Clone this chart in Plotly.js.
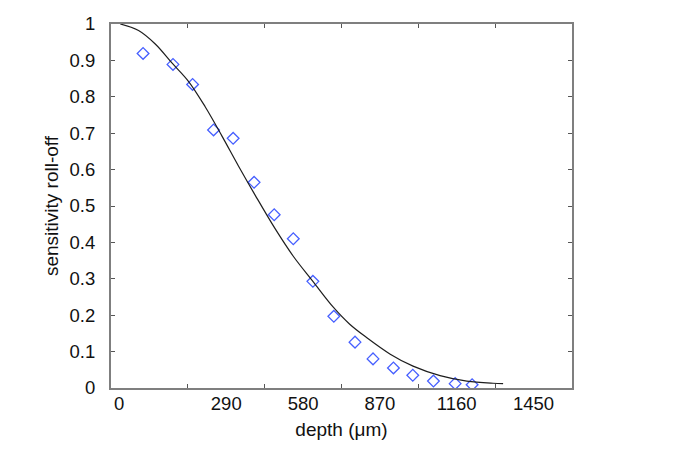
<!DOCTYPE html>
<html>
<head>
<meta charset="utf-8">
<script src="https://cdn.plot.ly/plotly-3.0.1.min.js"></script>
<style>
  html, body { margin: 0; padding: 0; background: #fff; }
  #plot { width: 677px; height: 458px; }
</style>
</head>
<body>
<div id="plot"></div>
<script>
// measured roll-off (diamonds)
var depthMeas = [121, 234, 308, 387, 461, 540, 616, 688, 762, 841, 921, 989, 1066, 1139, 1217, 1299, 1363];
var rollMeas  = [0.919, 0.889, 0.834, 0.709, 0.686, 0.565, 0.476, 0.41, 0.293, 0.197, 0.126, 0.080, 0.055, 0.035, 0.019, 0.012, 0.009];

// fitted curve (line)
var depthFit = [35, 104, 167, 230, 293, 356, 419, 481, 544, 620, 688, 762, 839, 900, 966, 1054, 1140, 1242, 1343, 1442, 1480];
var rollFit  = [1.0, 0.982, 0.945, 0.893, 0.842, 0.772, 0.692, 0.610, 0.530, 0.437, 0.362, 0.293, 0.222, 0.176, 0.138, 0.093, 0.06, 0.034, 0.019, 0.013, 0.012];

// tick labels (sit between the tick marks in the original)
var tickLabelPos  = [31, 435, 725, 1015, 1305, 1595];
var tickLabelText = ['0', '290', '580', '870', '1160', '1450'];

function crea(){
  var fit = {
    x: depthFit,
    y: rollFit,
    mode: 'lines',
    line: { color: 'rgb(30,30,30)', width: 1.2, shape: 'spline', smoothing: 1 },
    xaxis: 'x2',
    yaxis: 'y',
    showlegend: false,
    hoverinfo: 'skip'
  };

  var meas = {
    x: depthMeas,
    y: rollMeas,
    mode: 'markers',
    marker: {
      symbol: 'diamond-open',
      size: 9,
      color: 'rgb(70,95,255)',
      line: { width: 1.3, color: 'rgb(70,95,255)' }
    },
    showlegend: false
  };

  var axRange = [0, 1740];

  var layout = {
    width: 677,
    height: 458,
    margin: { l: 111, r: 105, t: 24, b: 70 },
    paper_bgcolor: '#fff',
    plot_bgcolor: '#fff',
    font: { family: 'Liberation Sans, Arial, sans-serif', size: 18.5, color: '#111' },
    showlegend: false,
    xaxis: {
      range: axRange,
      tick0: 0,
      dtick: 290,
      ticks: 'inside',
      ticklen: 4,
      tickcolor: '#555',
      showticklabels: false,
      showgrid: false,
      zeroline: false,
      showline: true,
      linecolor: '#7f7f7f',
      linewidth: 2,
      mirror: 'ticks'
    },
    xaxis2: {
      range: axRange,
      overlaying: 'x',
      anchor: 'y',
      side: 'bottom',
      tickmode: 'array',
      tickvals: tickLabelPos,
      ticktext: tickLabelText,
      ticks: '',
      ticklabelstandoff: 2,
      showgrid: false,
      zeroline: false,
      showline: false,
      title: { text: 'depth (\u03bcm)', font: { size: 19 }, standoff: 10 }
    },
    yaxis: {
      range: [0, 1],
      dtick: 0.1,
      ticks: 'inside',
      ticklen: 4,
      tickcolor: '#555',
      ticklabelstandoff: 10,
      showgrid: false,
      zeroline: false,
      showline: true,
      linecolor: '#7f7f7f',
      linewidth: 2,
      mirror: 'ticks',
      title: { text: 'sensitivity roll-off', font: { size: 19 }, standoff: 6 }
    }
  };

  Plotly.newPlot('plot', [fit, meas], layout, { displayModeBar: false, staticPlot: true });
}
crea();
</script>
</body>
</html>
